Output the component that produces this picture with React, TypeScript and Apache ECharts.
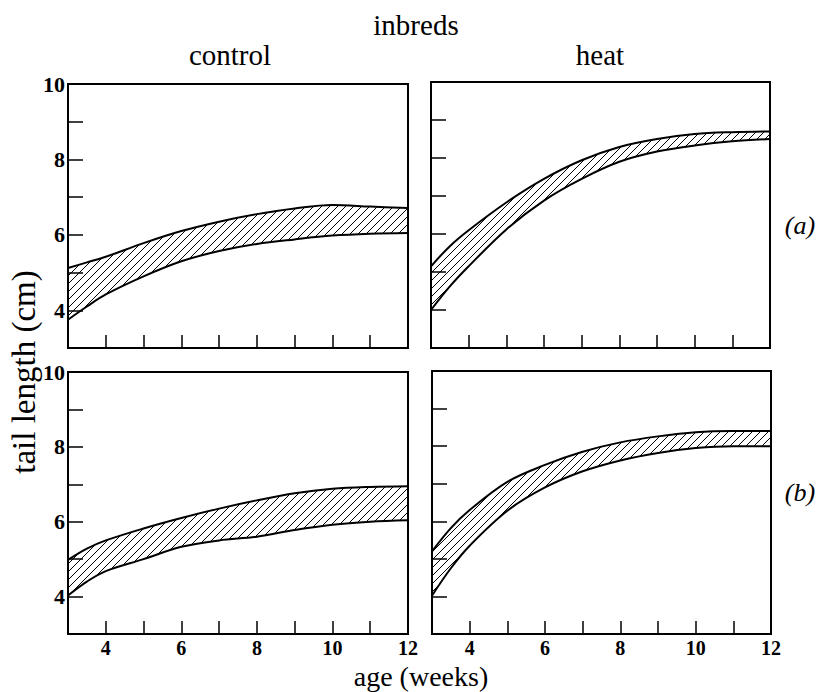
import React, { useEffect, useRef } from "react";
import * as echarts from "echarts";

// ages (weeks)
const ages = [3, 3.5, 4, 5, 6, 7, 8, 9, 10, 11, 12];

// (a) control
const aControlUpper = [5.12, 5.27, 5.42, 5.78, 6.1, 6.35, 6.55, 6.7, 6.79, 6.75, 6.71];
const aControlLower = [3.75, 4.1, 4.42, 4.9, 5.3, 5.57, 5.76, 5.88, 5.98, 6.03, 6.05];
// (a) heat
const aHeatUpper = [5.15, 5.68, 6.1, 6.83, 7.45, 7.94, 8.29, 8.5, 8.63, 8.68, 8.7];
const aHeatLower = [4.0, 4.62, 5.15, 6.12, 6.88, 7.45, 7.9, 8.17, 8.33, 8.44, 8.5];
// (b) control
const bControlUpper = [4.98, 5.28, 5.5, 5.82, 6.1, 6.35, 6.57, 6.76, 6.88, 6.93, 6.95];
const bControlLower = [4.03, 4.4, 4.68, 5.0, 5.33, 5.5, 5.6, 5.78, 5.92, 6.0, 6.04];
// (b) heat
const bHeatUpper = [5.2, 5.82, 6.3, 7.05, 7.5, 7.85, 8.1, 8.26, 8.37, 8.4, 8.4];
const bHeatLower = [4.02, 4.75, 5.35, 6.28, 6.9, 7.33, 7.62, 7.82, 7.95, 8.0, 8.0];

const xTickLabels = [4, 6, 8, 10, 12];
const yTickLabels = [4, 6, 8, 10];

const SERIF = "'Liberation Serif', 'Times New Roman', serif";

const hatchSvg =
  "<svg xmlns='http://www.w3.org/2000/svg' width='8' height='8'>" +
  "<rect width='8' height='8' fill='white'/>" +
  "<path d='M0,8 L8,0 M-1,1 L1,-1 M7,9 L9,7' stroke='black' stroke-width='1' fill='none'/></svg>";
const hatchUrl = "data:image/svg+xml;charset=utf-8," + encodeURIComponent(hatchSvg);

export default function App() {
  const ref = useRef<HTMLDivElement>(null);
  useEffect(() => {
    if (!ref.current) return;
    const chart = echarts.init(ref.current, null, { renderer: "svg" });

    const panels = [
      { grid: { left: 68, top: 84, width: 340, height: 264 }, up: aControlUpper, lo: aControlLower, xLab: false, yLab: true },
      { grid: { left: 431, top: 82, width: 339, height: 266 }, up: aHeatUpper, lo: aHeatLower, xLab: false, yLab: false },
      { grid: { left: 68, top: 372, width: 340, height: 262 }, up: bControlUpper, lo: bControlLower, xLab: true, yLab: true },
      { grid: { left: 432, top: 371, width: 339, height: 263 }, up: bHeatUpper, lo: bHeatLower, xLab: true, yLab: false },
    ];

    const hatch: any = { image: hatchUrl, repeat: "repeat", imageWidth: 8, imageHeight: 8 };

    const grids = panels.map((p) => ({
      ...p.grid,
      show: true,
      z: 10,
      borderColor: "#000",
      borderWidth: 2,
      backgroundColor: "transparent",
    }));

    const xAxes = panels.map((p, i) => ({
      gridIndex: i,
      type: "value",
      min: 3,
      max: 12,
      interval: 1,
      z: 10,
      axisLine: { show: true, onZero: false, lineStyle: { color: "#000", width: 2 } },
      axisTick: { show: true, inside: true, length: 13, lineStyle: { color: "#000", width: 1.5 } },
      axisLabel: {
        show: p.xLab,
        color: "#000",
        fontFamily: SERIF,
        fontSize: 20,
        fontWeight: "bold",
        margin: 4,
        formatter: (v: number) => (xTickLabels.includes(v) ? String(v) : ""),
      },
      splitLine: { show: false },
    }));

    const yAxes = panels.map((p, i) => ({
      gridIndex: i,
      type: "value",
      min: 3,
      max: 10,
      interval: 1,
      z: 10,
      axisLine: { show: true, onZero: false, lineStyle: { color: "#000", width: 2 } },
      axisTick: { show: true, inside: true, length: 15, lineStyle: { color: "#000", width: 1.5 } },
      axisLabel: {
        show: p.yLab,
        color: "#000",
        fontFamily: SERIF,
        fontSize: 22,
        fontWeight: "bold",
        margin: 3,
        formatter: (v: number) => (yTickLabels.includes(v) ? String(v) : ""),
      },
      splitLine: { show: false },
    }));

    const series: any[] = [];
    panels.forEach((p, i) => {
      series.push({
        type: "line",
        xAxisIndex: i,
        yAxisIndex: i,
        z: 2,
        smooth: 0.35,
        symbol: "none",
        lineStyle: { color: "#000", width: 2 },
        areaStyle: { color: hatch, opacity: 1, origin: "start" },
        data: ages.map((a, k) => [a, p.up[k]]),
      });
      series.push({
        type: "line",
        xAxisIndex: i,
        yAxisIndex: i,
        z: 3,
        smooth: 0.35,
        symbol: "none",
        lineStyle: { color: "#000", width: 2 },
        areaStyle: { color: "#fff", opacity: 1, origin: "start" },
        data: ages.map((a, k) => [a, p.lo[k]]),
      });
    });

    const textStyle = (size: number, italic = false) => ({
      fill: "#000",
      font: `${italic ? "italic" : "normal"} normal ${size}px ${SERIF}`,
      textAlign: "center",
      textVerticalAlign: "middle",
    });

    chart.setOption({
      animation: false,
      backgroundColor: "#fff",
      grid: grids,
      xAxis: xAxes,
      yAxis: yAxes,
      series,
      graphic: [
        { type: "text", x: 416, y: 25, style: { text: "inbreds", ...textStyle(29) } },
        { type: "text", x: 230, y: 55, style: { text: "control", ...textStyle(29) } },
        { type: "text", x: 600, y: 55, style: { text: "heat", ...textStyle(29) } },
        { type: "text", x: 800, y: 225, style: { text: "(a)", ...textStyle(26, true) } },
        { type: "text", x: 800, y: 492, style: { text: "(b)", ...textStyle(26, true) } },
        { type: "text", x: 24, y: 372, rotation: Math.PI / 2, style: { text: "tail length (cm)", ...textStyle(33) } },
        { type: "text", x: 421, y: 676, style: { text: "age (weeks)", ...textStyle(28) } },
      ],
    });
    return () => chart.dispose();
  }, []);
  return (
    <div
      ref={ref}
      style={{ position: "fixed", left: 0, top: 0, width: 818, height: 692, background: "#fff" }}
    />
  );
}
